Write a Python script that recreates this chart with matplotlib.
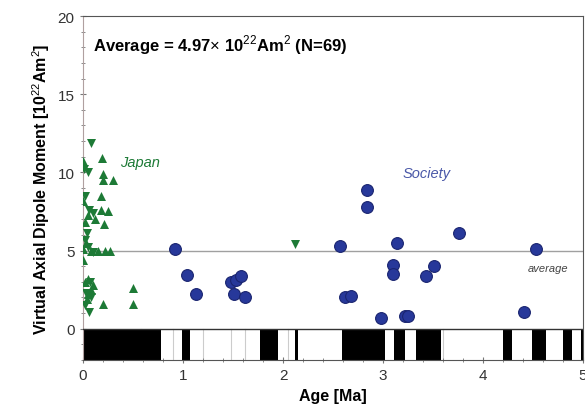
import matplotlib.pyplot as plt
from matplotlib.ticker import MultipleLocator

plt.rcParams['font.family'] = ['Liberation Sans', 'DejaVu Sans']
plt.rcParams['mathtext.fontset'] = 'custom'
plt.rcParams['mathtext.rm'] = 'Liberation Sans'
plt.rcParams['mathtext.bf'] = 'Liberation Sans:bold'

# Japan data, upward triangles
jp_up_age = [0.00, 0.19, 0.20, 0.20, 0.30, 0.18, 0.00, 0.18, 0.25, 0.05, 0.02, 0.21, 0.00, 0.08,
             0.15, 0.22, 0.27, 0.00, 0.05, 0.02, 0.08, 0.05, 0.20, 0.50, 0.50, 0.12, 0.04, 0.03, 0.10]
jp_up_vadm = [10.7, 10.9, 9.9, 9.5, 9.5, 8.5, 8.2, 7.6, 7.5, 7.3, 6.8, 6.7, 5.1, 5.0,
              5.0, 4.95, 4.95, 4.4, 3.2, 3.0, 2.5, 2.2, 1.6, 2.6, 1.6, 7.0, 1.9, 5.5, 2.8]
# Japan data, downward triangles
jp_dn_age = [0.08, 0.01, 0.05, 0.02, 0.06, 0.10, 0.04, 0.02, 0.05, 0.07, 0.08, 0.06, 0.03, 2.12, 0.10, 0.02]
jp_dn_vadm = [11.9, 10.2, 10.0, 8.5, 7.6, 7.4, 6.1, 5.7, 5.2, 3.0, 2.0, 1.1, 2.3, 5.45, 4.9, 1.5]

# Society islands
soc_age = [0.92, 1.04, 1.13, 1.48, 1.53, 1.58, 1.51, 1.62, 2.57, 2.62, 2.68, 2.84, 2.84,
           2.98, 3.10, 3.10, 3.14, 3.22, 3.25, 3.43, 3.51, 3.76, 4.41, 4.53]
soc_vadm = [5.1, 3.45, 2.2, 3.0, 3.1, 3.4, 2.2, 2.0, 5.3, 2.0, 2.1, 8.85, 7.8,
            0.7, 4.1, 3.5, 5.5, 0.8, 0.8, 3.4, 4.0, 6.1, 1.06, 5.1]

average = 4.97

# normal polarity chrons (start, end) in Ma
normal = [(0.0, 0.78), (0.99, 1.07), (1.77, 1.95), (2.12, 2.15), (2.59, 3.02),
          (3.11, 3.22), (3.33, 3.58), (4.20, 4.29), (4.49, 4.63), (4.80, 4.89), (4.98, 5.2)]
excursions = [0.58, 0.9, 1.2, 1.48, 1.62, 2.05, 3.6]

green = '#1d7a36'
blue = '#27389a'

fig = plt.figure(figsize=(5.85, 4.1), dpi=100)
ax = fig.add_axes([0.1419, 0.1195, 0.8547, 0.839])

for e in excursions:
    ax.plot([e, e], [-2, 0], color='#cccccc', lw=0.8, zorder=1)
for s, e in normal:
    ax.fill_between([s, e], -2, 0, color='black', lw=0, zorder=2)
ax.axhline(0, color='#333333', lw=1.0, zorder=3)

ax.axhline(average, color='#a0a0a0', lw=1.0, zorder=1)

ax.scatter(jp_up_age, jp_up_vadm, marker='^', s=42, color=green, lw=0, zorder=4)
ax.scatter(jp_dn_age, jp_dn_vadm, marker='v', s=42, color=green, lw=0, zorder=4)
ax.scatter(soc_age, soc_vadm, marker='o', s=72, color=blue, edgecolor='#1a2570', lw=0.8, zorder=4)

ax.text(0.1, 18.2, r'Average = 4.97$\times$ 10$^{22}$Am$^2$ (N=69)', fontsize=12,
        fontweight='bold', va='center')
ax.text(0.37, 10.4, 'Japan', color=green, style='italic', fontsize=10.5)
ax.text(3.2, 9.7, 'Society', color='#4a58a8', style='italic', fontsize=10.5)
ax.text(4.45, 3.7, 'average', color='#444444', style='italic', fontsize=8)

ax.set_xlim(0, 5)
ax.set_ylim(-2, 20)
ax.set_yticks([0, 5, 10, 15, 20])
ax.yaxis.set_minor_locator(MultipleLocator(1))
ax.xaxis.set_major_locator(MultipleLocator(1))
ax.xaxis.set_minor_locator(MultipleLocator(0.2))
ax.tick_params(which='both', direction='inout', colors='#777777', labelcolor='#333333', labelsize=11)
ax.tick_params(which='major', length=5)
ax.tick_params(which='minor', length=3)

for sp in ax.spines.values():
    sp.set_color('#555555')
ax.spines['left'].set_color('#b0a0a0')

ax.set_xlabel('Age [Ma]', fontsize=11.5, fontweight='bold')
ax.set_ylabel(r'Virtual Axial Dipole Moment [10$^{22}$Am$^2$]', fontsize=11.5, fontweight='bold')

fig.savefig('out.png', dpi=100)
